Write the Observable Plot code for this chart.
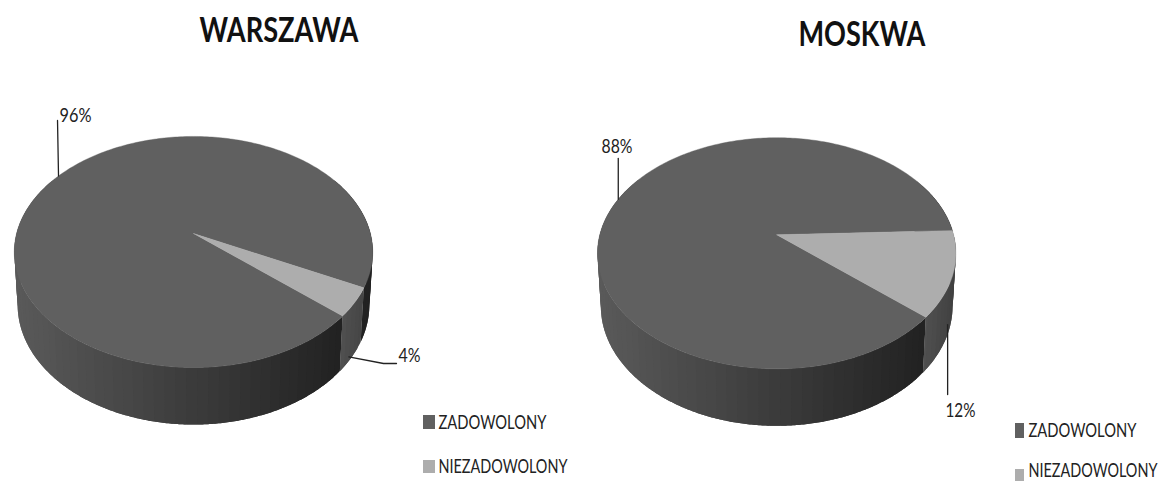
<!DOCTYPE html>
<html lang="pl">
<head>
<meta charset="utf-8">
<title>Zadowolenie: Warszawa i Moskwa</title>
<style>
  html, body { margin: 0; padding: 0; background: #fff; }
  svg { display: block; }
</style>
<script src="https://cdn.jsdelivr.net/npm/d3@7"></script>
<script src="https://cdn.jsdelivr.net/npm/@observablehq/plot@0.6"></script>
</head>
<body>
<div id="chart"></div>
<script>
// Survey results: share of satisfied and dissatisfied respondents per city.
const categories = ["ZADOWOLONY", "NIEZADOWOLONY"];
const cities = ["WARSZAWA", "MOSKWA"];
const warszawa = [96, 4];
const moskwa = [88, 12];

const W = 1158, H = 481;
const categoryColors = ["#606060", "#adadad"];
const firstSliceAngle = 131;  // degrees clockwise from twelve o'clock

// Page placement of each tilted pie and of its annotations.
const pies = [
  {
    city: cities[0], values: warszawa, cx: 193, cy: 233, titleX: 199, titleY: 31,
    legendKey: {x1: 423, x2: 435, y: [[415, 429], [460, 473]]},
    legendTextX: 438, legendTextY: [422, 466.5],
    labels: [
      {x: 59, y: 115, path: s => [s, {x: s.x - 1, y: 120}], rim: "top"},
      {x: 398, y: 355, path: s => [{x: s.x - 3, y: s.y}, {x: 383, y: 363}, {x: 396, y: 363}], rim: "bottom"}
    ]
  },
  {
    city: cities[1], values: moskwa, cx: 776.2, cy: 234.3, titleX: 798, titleY: 35,
    legendKey: {x1: 1015, x2: 1024, y: [[423, 438], [469, 481]]},
    legendTextX: 1028, legendTextY: [430.5, 470],
    labels: [
      {x: 601, y: 146, path: s => [s, {x: s.x, y: 158}], rim: "top"},
      {x: 945, y: 410, path: s => [{x: s.x - 2, y: s.y - 3}, {x: s.x - 2, y: 394}], rim: "bottom"}
    ]
  }
];

// Width each string is fitted to when drawn.
const textWidths = {
  WARSZAWA: 159, MOSKWA: 127, ZADOWOLONY: 108, NIEZADOWOLONY: 129,
  "96%": 32, "88%": 31, "4%": 22, "12%": 30
};

// Perspective of the two discs: the near edge is magnified by p.
const p = 0.16;
const rims = {
  top: {a: 176.9, k: 112.6, dy: 0},
  bottom: {a: 173.6, k: 116.8, dy: 52}
};

function project(pie, deg, rim, r = 1) {
  const t = deg * Math.PI / 180;
  const X = r * Math.sin(t), Y = -r * Math.cos(t);
  const d = 1 - Y * p;
  return {x: pie.cx + X * rim.a / d, y: pie.cy + rim.dy + Y * rim.k / d};
}

function sliceAngles(values) {
  const total = d3.sum(values);
  let a = firstSliceAngle;
  return values.map(v => {
    const start = a;
    a += v / total * 360;
    return {start, end: a, mid: (start + a) / 2, value: v};
  });
}

const grey = g => { const c = Math.round(g); return `rgb(${c},${c},${c})`; };

// Side-wall tone: darkens from left to right across the front of each slice.
function wallShade(pie, sliceIndex, x) {
  const u = x - pie.cx;
  if (sliceIndex === 0) {
    const t = Math.min(1, Math.max(0, (u + 180) / 327));
    return grey(90 - 56 * t);
  }
  const t = Math.min(1, Math.max(0, (u - 145) / 35));
  return grey(82 - 18 * t);
}

const facePoints = [];
const wallPoints = [];
const leaderPoints = [];
const percentLabels = [];
const titles = [];
const legendKeys = [];
const legendTexts = [];

pies.forEach((pie, pi) => {
  const angles = sliceAngles(pie.values);
  titles.push({text: pie.city, x: pie.titleX, y: pie.titleY});

  categories.forEach((name, i) => {
    legendKeys.push({
      x1: pie.legendKey.x1, x2: pie.legendKey.x2,
      y1: pie.legendKey.y[i][0], y2: pie.legendKey.y[i][1],
      fill: categoryColors[i]
    });
    legendTexts.push({text: name, x: pie.legendTextX, y: pie.legendTextY[i]});
  });

  angles.forEach((s, si) => {
    // Top face of the slice, from the hub around the rim.
    const id = `face-${pi}-${si}`;
    const hub = project(pie, 0, rims.top, 0);
    facePoints.push({id, ...hub, shade: categoryColors[si]});
    for (let a = s.start; ; a += 1) {
      const q = project(pie, Math.min(a, s.end), rims.top);
      facePoints.push({id, ...q, shade: categoryColors[si]});
      if (a >= s.end) break;
    }
    facePoints.push({id, ...hub, shade: categoryColors[si]});

    // Side wall of the slice: overlapping bands, each painted over the last,
    // so that no seams show between neighbouring tones.
    const step = 3;
    for (let a = s.start; a < s.end; a += step) {
      const m = ((a + step / 2)) % 360;
      if (m < 60 || m > 300) continue;
      const b = Math.min(a + step * 2, s.end);
      const sid = `wall-${pi}-${si}-${a}`;
      const shade = wallShade(pie, si, project(pie, m, rims.top).x);
      for (let c = a; ; c += 0.5) {
        wallPoints.push({id: sid, ...project(pie, Math.min(c, b), rims.top), shade});
        if (c >= b) break;
      }
      for (let c = b; ; c -= 0.5) {
        wallPoints.push({id: sid, ...project(pie, Math.max(c, a), rims.bottom), shade});
        if (c <= a) break;
      }
    }
  });

  // Each percentage label is tied to the middle of its slice by a leader.
  pie.labels.forEach((label, i) => {
    const s = angles[i];
    const start = project(pie, s.mid, rims[label.rim]);
    label.path(start).forEach(q => leaderPoints.push({id: `${pi}-${i}`, ...q}));
    percentLabels.push({text: `${s.value}%`, x: label.x, y: label.y});
  });
});

const font = "Lato, 'Open Sans', sans-serif";

const chart = Plot.plot({
  width: W,
  height: H,
  margin: 0,
  x: {domain: [0, W], range: [0, W], axis: null},
  y: {domain: [0, H], range: [0, H], axis: null},
  color: {type: "identity"},
  style: {background: "#fff", fontFamily: font},
  marks: [
    Plot.line(wallPoints, {x: "x", y: "y", z: "id", fill: "shade", stroke: "none"}),
    Plot.line(facePoints, {x: "x", y: "y", z: "id", fill: "shade", stroke: "shade", strokeWidth: 0.4}),
    Plot.line(leaderPoints, {x: "x", y: "y", z: "id", stroke: "#222", strokeWidth: 1.3}),
    Plot.text(titles, {x: "x", y: "y", text: "text", textAnchor: "start", fontSize: 34, fontWeight: 700, fill: "#111", fontFamily: font}),
    Plot.text(percentLabels, {x: "x", y: "y", text: "text", textAnchor: "start", fontSize: 19, fill: "#222", fontFamily: font}),
    Plot.rect(legendKeys, {x1: "x1", x2: "x2", y1: "y1", y2: "y2", fill: "fill"}),
    Plot.text(legendTexts, {x: "x", y: "y", text: "text", textAnchor: "start", fontSize: 20, fill: "#222", fontFamily: font})
  ]
});

document.getElementById("chart").appendChild(chart);

// Condense the labels horizontally to their set widths.
chart.querySelectorAll("text").forEach(t => {
  const w = textWidths[t.textContent];
  if (w) {
    const sx = w / t.getComputedTextLength();
    t.setAttribute("transform", `${t.getAttribute("transform") || ""} scale(${sx},1)`);
  }
});
</script>
</body>
</html>
